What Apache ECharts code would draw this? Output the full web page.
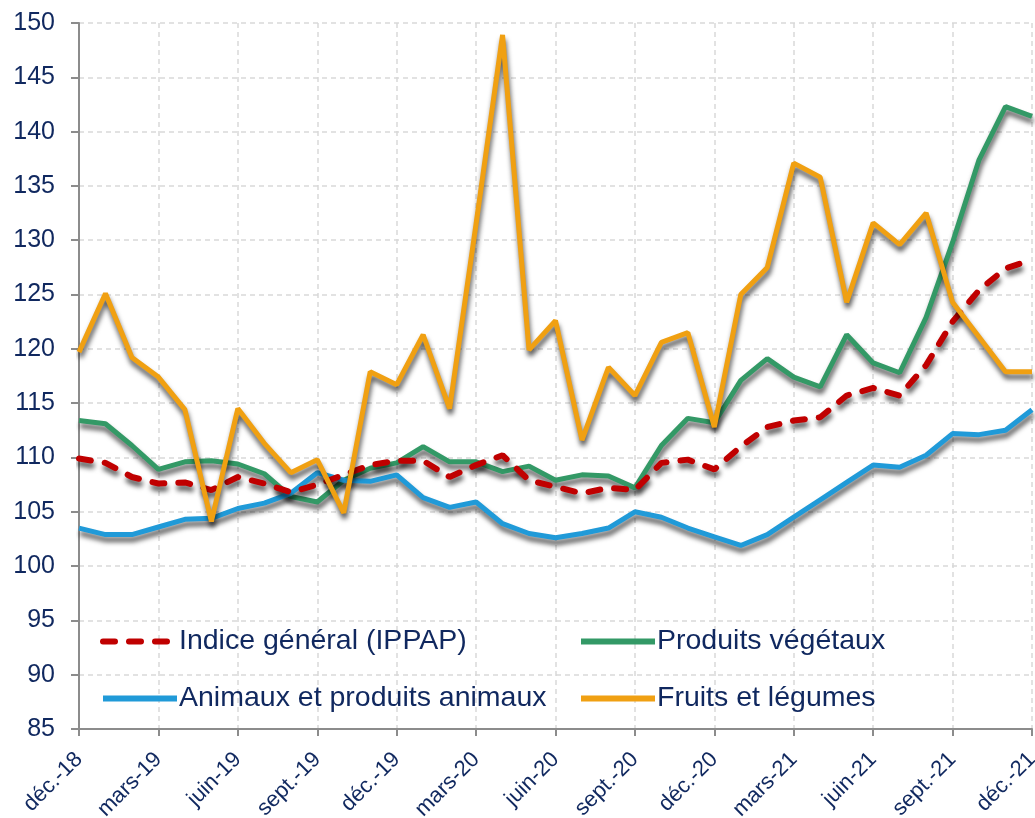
<!DOCTYPE html>
<html style="height: 100%">

<head>
    <meta charset="utf-8">
</head>

<body style="height: 100%; margin: 0; background: #fff">
    <div id="container" style="width: 1035px; height: 818px"></div>
    <script type="text/javascript" src="https://cdn.jsdelivr.net/npm/echarts@6/dist/echarts.min.js"></script>
    <script type="text/javascript">
        // mois de déc.-18 à déc.-21
        var mois = ['déc.-18', 'janv.-19', 'févr.-19', 'mars-19', 'avr.-19', 'mai-19', 'juin-19', 'juil.-19', 'août-19',
            'sept.-19', 'oct.-19', 'nov.-19', 'déc.-19', 'janv.-20', 'févr.-20', 'mars-20', 'avr.-20', 'mai-20',
            'juin-20', 'juil.-20', 'août-20', 'sept.-20', 'oct.-20', 'nov.-20', 'déc.-20', 'janv.-21', 'févr.-21',
            'mars-21', 'avr.-21', 'mai-21', 'juin-21', 'juil.-21', 'août-21', 'sept.-21', 'oct.-21', 'nov.-21', 'déc.-21'];

        var indiceGeneral = [109.9, 109.5, 108.2, 107.6, 107.7, 107.0, 108.2, 107.6, 106.8, 107.5, 108.4, 109.3,
            109.7, 109.7, 108.2, 109.3, 110.2, 107.9, 107.3, 106.7, 107.2, 107.0, 109.5, 109.8, 108.9, 111.0,
            112.8, 113.4, 113.7, 115.7, 116.4, 115.7, 118.5, 122.5, 125.4, 127.4, 128.2];

        var produitsVegetaux = [113.4, 113.1, 111.1, 108.9, 109.6, 109.7, 109.4, 108.5, 106.4, 105.9, 107.9, 109.0,
            109.5, 111.0, 109.6, 109.6, 108.7, 109.2, 107.9, 108.4, 108.3, 107.2, 111.1, 113.6, 113.2, 117.1,
            119.1, 117.4, 116.5, 121.3, 118.7, 117.8, 122.9, 129.8, 137.4, 142.3, 141.4];

        var animaux = [103.5, 102.9, 102.9, 103.6, 104.3, 104.4, 105.3, 105.8, 106.7, 108.6, 107.9, 107.8,
            108.4, 106.3, 105.4, 105.9, 103.9, 103.0, 102.6, 103.0, 103.5, 105.0, 104.5, 103.5, 102.7, 101.9,
            102.9, 104.5, 106.1, 107.7, 109.3, 109.1, 110.2, 112.2, 112.1, 112.5, 114.4];

        var fruitsLegumes = [119.7, 125.1, 119.2, 117.4, 114.4, 104.1, 114.5, 111.3, 108.6, 109.8, 104.9, 117.9,
            116.7, 121.3, 114.5, 131.5, 148.9, 119.9, 122.6, 111.6, 118.3, 115.7, 120.6, 121.5, 112.8, 125.0,
            127.5, 137.1, 135.8, 124.3, 131.6, 129.6, 132.5, 124.3, 121.1, 117.9, 117.9];

        var bleuNuit = '#10285f';

        function serie(nom, data, couleur, dash) {
            return {
                name: nom,
                type: 'line',
                data: data,
                symbol: 'none',
                smooth: false,
                lineStyle: {
                    color: couleur,
                    width: dash ? 6 : 5,
                    type: dash ? [12, 14] : 'solid',
                    cap: dash ? 'round' : 'butt',
                    shadowColor: 'rgba(0,0,0,0.65)',
                    shadowBlur: 5,
                    shadowOffsetX: 1,
                    shadowOffsetY: 5
                },
                itemStyle: { color: couleur }
            };
        }

        var legendeCommune = {
            orient: 'vertical',
            top: 622,
            itemWidth: 74,
            itemHeight: 14,
            itemGap: 28,
            lineStyle: { width: 6, shadowBlur: 0, shadowOffsetX: 0, shadowOffsetY: 0, shadowColor: 'rgba(0,0,0,0)' },
            itemStyle: { opacity: 0 },
            textStyle: { color: bleuNuit, fontSize: 28.5, fontFamily: 'Liberation Sans, Arial', padding: [0, 0, 0, -3] },
            inactiveColor: '#ccc'
        };

        var dom = document.getElementById("container");
        var myChart = echarts.init(dom);
        option = {
            animation: false,
            grid: { left: 79, right: 3, top: 23, bottom: 89, containLabel: false, outerBoundsMode: 'none' },
            legend: [
                Object.assign({}, legendeCommune, { left: 95, data: ['Indice général (IPPAP)', 'Animaux et produits animaux'] }),
                Object.assign({}, legendeCommune, { left: 573, data: ['Produits végétaux', 'Fruits et légumes'] })
            ],
            xAxis: {
                type: 'category',
                data: mois,
                boundaryGap: false,
                axisLine: { lineStyle: { color: '#8c8c8c', width: 2 } },
                axisTick: { interval: 2, length: 7, lineStyle: { color: '#8c8c8c', width: 2 } },
                axisLabel: {
                    interval: 2,
                    rotate: 45,
                    color: bleuNuit,
                    fontSize: 22,
                    fontFamily: 'Liberation Sans, Arial',
                    margin: 27
                },
                splitLine: { show: true, interval: 2, lineStyle: { color: '#d9d9d9', type: [5, 4], width: 1.5 } }
            },
            yAxis: {
                type: 'value',
                min: 85,
                max: 150,
                interval: 5,
                axisLine: { show: true, lineStyle: { color: '#8c8c8c', width: 2 } },
                axisTick: { show: true, length: 8, lineStyle: { color: '#8c8c8c', width: 2 } },
                axisLabel: { color: bleuNuit, fontSize: 25, fontFamily: 'Liberation Sans, Arial', margin: 24 },
                splitLine: { lineStyle: { color: '#d9d9d9', type: [5, 4], width: 1.5 } }
            },
            series: [
                serie('Produits végétaux', produitsVegetaux, '#339966', false),
                serie('Animaux et produits animaux', animaux, '#209ad8', false),
                serie('Indice général (IPPAP)', indiceGeneral, '#c00000', true),
                serie('Fruits et légumes', fruitsLegumes, '#f0a012', false)
            ]
        };

        myChart.setOption(option, true);
    </script>
</body>

</html>
